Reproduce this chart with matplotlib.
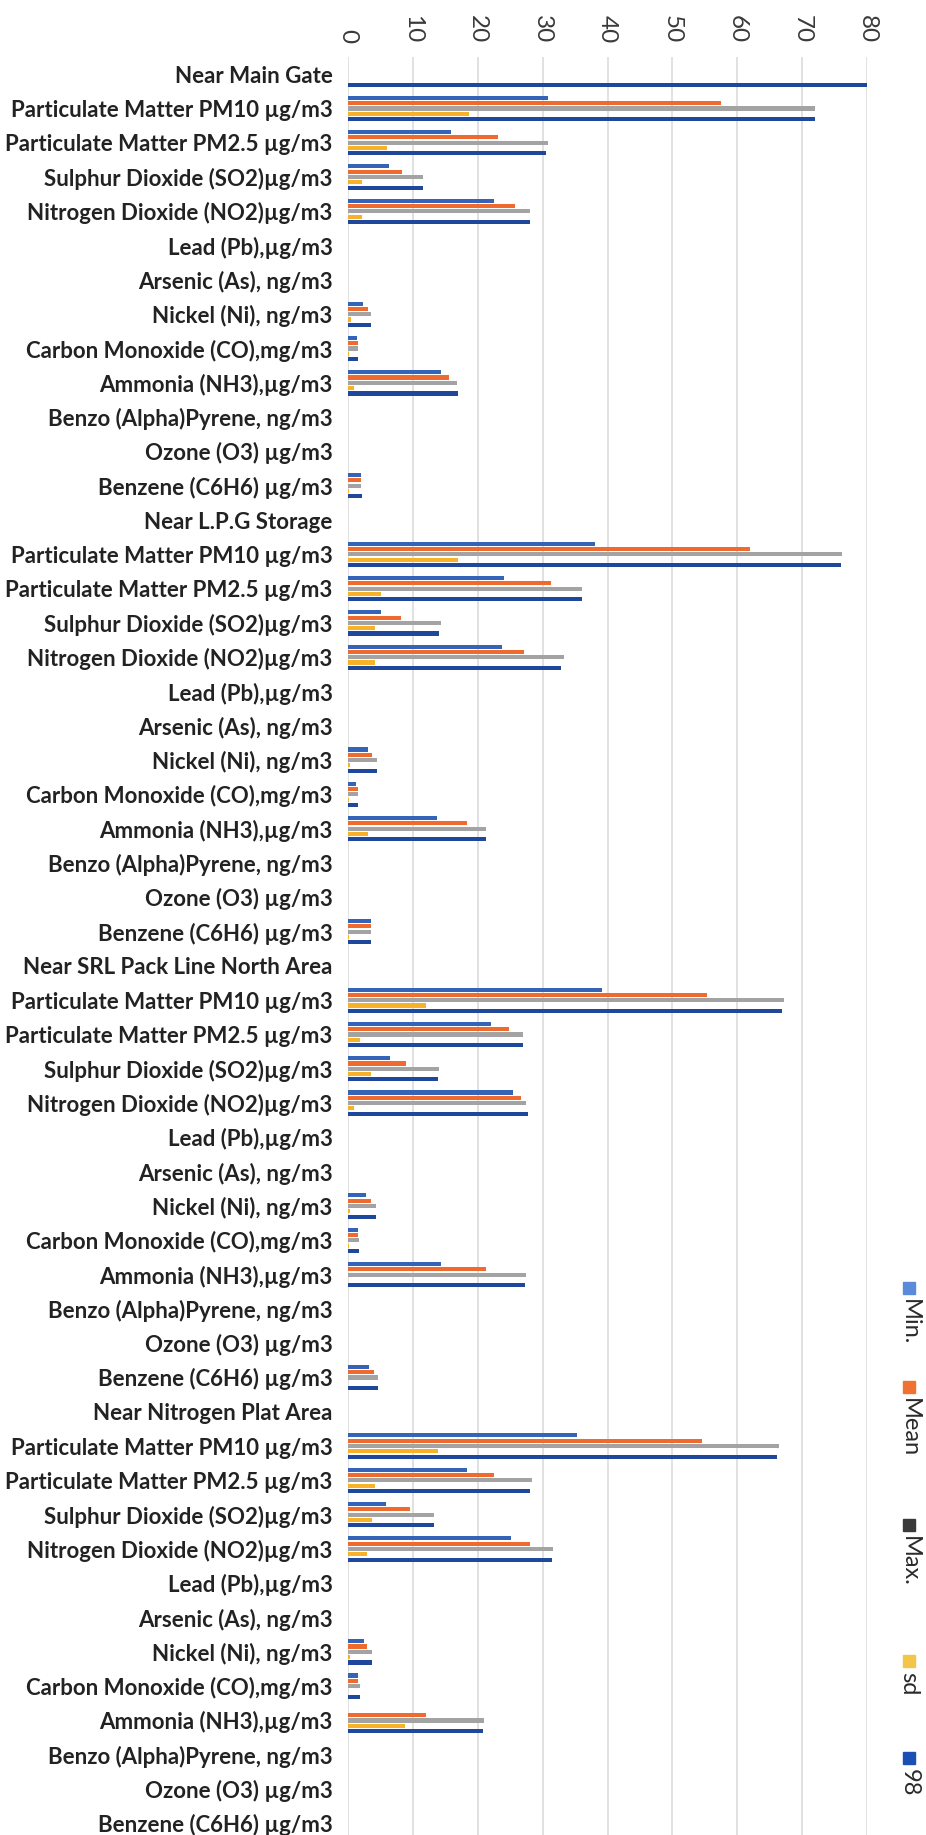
import numpy as np
import matplotlib.pyplot as plt
from matplotlib.patches import Rectangle

plt.rcParams['font.family'] = ['Lato', 'DejaVu Sans']

# Categories: each site header followed by its 12 parameters
sites = ["Near Main Gate", "Near L.P.G Storage",
         "Near SRL Pack Line North Area", "Near Nitrogen Plat Area"]
params = ["Particulate Matter PM10 µg/m3", "Particulate Matter PM2.5 µg/m3",
          "Sulphur Dioxide (SO2)µg/m3", "Nitrogen Dioxide (NO2)µg/m3",
          "Lead (Pb),µg/m3", "Arsenic (As), ng/m3", "Nickel (Ni), ng/m3",
          "Carbon Monoxide (CO),mg/m3", "Ammonia (NH3),µg/m3",
          "Benzo (Alpha)Pyrene, ng/m3", "Ozone (O3) µg/m3", "Benzene (C6H6) µg/m3"]
labels = []
for s in sites:
    labels += [s] + params

series = ["Min.", "Mean", "Max.", "sd", "98"]

# values per row (header, PM10, PM2.5, SO2, NO2, Pb, As, Ni, CO, NH3, BaP, O3, C6H6)
min_vals = [0, 30.8, 15.9, 6.3, 22.5, 0, 0, 2.3, 1.4, 14.4, 0, 0, 2.0,
            0, 38.0, 24.0, 5.1, 23.7, 0, 0, 3.1, 1.2, 13.7, 0, 0, 3.6,
            0, 39.1, 22.1, 6.4, 25.5, 0, 0, 2.7, 1.6, 14.4, 0, 0, 3.2,
            0, 35.3, 18.3, 5.8, 25.1, 0, 0, 2.4, 1.6, 0, 0, 0, 0]
mean_vals = [0, 57.5, 23.1, 8.4, 25.7, 0, 0, 3.1, 1.5, 15.5, 0, 0, 2.0,
             0, 62.0, 31.3, 8.1, 27.2, 0, 0, 3.7, 1.5, 18.3, 0, 0, 3.6,
             0, 55.4, 24.8, 9.0, 26.7, 0, 0, 3.5, 1.6, 21.2, 0, 0, 4.0,
             0, 54.6, 22.5, 9.6, 28.1, 0, 0, 2.9, 1.6, 12.1, 0, 0, 0]
max_vals = [0, 72.0, 30.8, 11.6, 28.0, 0, 0, 3.6, 1.5, 16.8, 0, 0, 2.0,
            0, 76.1, 36.0, 14.3, 33.3, 0, 0, 4.4, 1.6, 21.3, 0, 0, 3.5,
            0, 67.2, 26.9, 14.0, 27.5, 0, 0, 4.3, 1.7, 27.5, 0, 0, 4.6,
            0, 66.4, 28.3, 13.2, 31.6, 0, 0, 3.7, 1.8, 21.0, 0, 0, 0]
sd_vals = [0, 18.6, 6.0, 2.1, 2.2, 0, 0, 0.4, 0.1, 0.9, 0, 0, 0.1,
           0, 16.9, 5.1, 4.2, 4.2, 0, 0, 0.3, 0.1, 3.1, 0, 0, 0.1,
           0, 12.0, 1.9, 3.5, 1.0, 0, 0, 0.3, 0.1, 0, 0, 0, 0,
           0, 13.9, 4.2, 3.7, 2.9, 0, 0, 0.3, 0, 8.8, 0, 0, 0]
p98_vals = [80, 72.0, 30.5, 11.5, 28.0, 0, 0, 3.6, 1.5, 16.9, 0, 0, 2.1,
            0, 76.0, 36.0, 14.0, 32.9, 0, 0, 4.4, 1.6, 21.3, 0, 0, 3.6,
            0, 66.9, 26.9, 13.8, 27.7, 0, 0, 4.3, 1.7, 27.3, 0, 0, 4.7,
            0, 66.2, 28.0, 13.2, 31.4, 0, 0, 3.7, 1.8, 20.8, 0, 0, 0]

all_vals = [min_vals, mean_vals, max_vals, sd_vals, p98_vals]
bar_colors = ['#3563B8', '#EE6A2E', '#A3A3A3', '#F7B22A', '#1F479C']
legend_colors = ['#5A8AD8', '#F07233', '#3A3A3A', '#F3C64A', '#1B4FB4']

fig = plt.figure(figsize=(9.26, 18.35), dpi=100)
W, H = 926, 1835
ax = fig.add_axes([348 / W, 0, (867 - 348) / W, (1835 - 57) / H])

y = np.arange(len(labels))
step = 0.155
for i, (vals, c) in enumerate(zip(all_vals, bar_colors)):
    ax.barh(y + (i - 2) * step, vals, height=0.12, color=c, zorder=3)

ax.set_xlim(0, 80)
ax.set_ylim(51.34, -0.5)
ax.set_xticks(np.arange(0, 81, 10))
ax.xaxis.tick_top()
ax.tick_params(axis='x', length=0, pad=10, labelsize=17.5, labelcolor='#3A3A3A',
               labelrotation=-90)
ax.set_yticks(y)
ax.set_yticklabels(labels, fontsize=16, fontweight='bold', color='#222222')
ax.tick_params(axis='y', length=0, pad=11)
ax.grid(axis='x', color='#DCDCDC', lw=1.2, zorder=0)
for sp in ax.spines.values():
    sp.set_visible(False)

# legend, rotated like the rest of the page
leg_y = [1282, 1381, 1519, 1655, 1752]
for name, c, yy in zip(series, legend_colors, leg_y):
    fig.patches.append(Rectangle((903 / W, 1 - (yy + 12) / H), 12 / W, 12 / H,
                                 transform=fig.transFigure, color=c))
    fig.text(909 / W, 1 - (yy + 17) / H, name, rotation=-90, ha='center', va='top',
             fontsize=17, color='#2A2A2A')

fig.savefig('out.png', dpi=100)
